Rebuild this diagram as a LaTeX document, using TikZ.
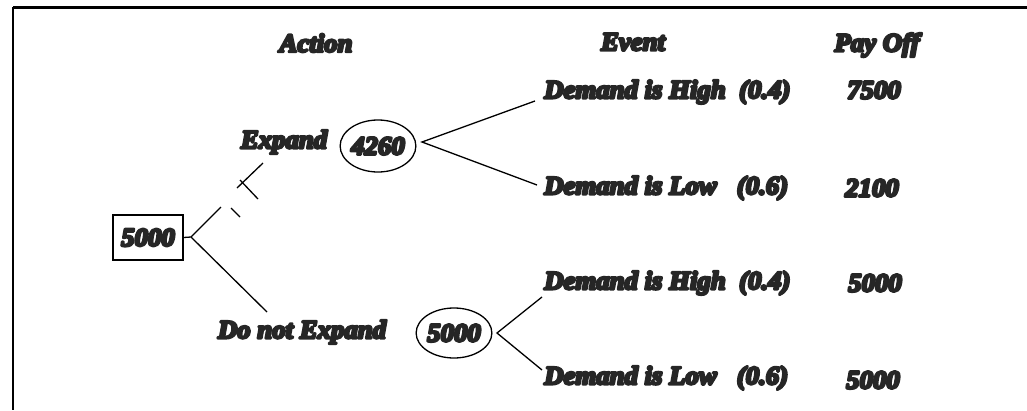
\documentclass[tikz,border=0pt]{standalone}
\usepackage{fontspec}
\newfontfamily\heavy{Liberation Serif}[UprightFont={* Bold Italic}, FakeStretch=1.03]
\usetikzlibrary{shapes.geometric}
\definecolor{ink}{HTML}{262626}
\newcommand\fattext[1]{\special{pdf:literal 2 Tr 2.6 w 1 j}#1\special{pdf:literal 0 Tr}}
\begin{document}
\begin{tikzpicture}[x=1pt,y=-1pt,
  lbl/.style={font=\heavy\fontsize{26}{28}\selectfont, text=ink, inner sep=0pt},
  conn/.style={line width=1.3pt, draw=black},
  chance/.style={ellipse, draw=black, line width=1.3pt, inner sep=0pt},
  decision/.style={rectangle, draw=black, line width=1.3pt, inner sep=0pt}]
\useasboundingbox (0,0) rectangle (1027,410);
% frame
\draw[line width=3pt] (13,7) -- (1027,7);
\draw[line width=2.5pt] (13,7) -- (13,410);
% headers
\node[lbl] (hAction) at (316,43) {\fattext{Action}};
\node[lbl] (hEvent) at (633,42) {\fattext{Event}};
\node[lbl] (hPay) at (877,45) {\fattext{Pay Off}};
% decision node
\node[decision, lbl, minimum width=70pt, minimum height=45pt, draw=black] (root) at (148,237.5) {\fattext{5000}};
% action labels
\node[lbl] (lExp) at (284,142) {\fattext{Expand}};
\node[lbl] (lNot) at (302,332) {\fattext{Do not Expand}};
% chance nodes
\node[chance, lbl, minimum width=67pt, minimum height=52pt, draw=black] (c1) at (378,146) {\fattext{4260}};
\node[chance, lbl, minimum width=68pt, minimum height=50pt, draw=black] (c2) at (454,333) {\fattext{5000}};
% events
\node[lbl, anchor=west] (e1) at (544,92) {\fattext{Demand is High\ \ (0.4)}};
\node[lbl, anchor=west] (e2) at (544,188) {\fattext{Demand is Low\ \ \ (0.6)}};
\node[lbl, anchor=west] (e3) at (544,283) {\fattext{Demand is High\ \ (0.4)}};
\node[lbl, anchor=west] (e4) at (544,378) {\fattext{Demand is Low\ \ \ (0.6)}};
% payoffs
\node[lbl] (p1) at (874,90) {\fattext{7500}};
\node[lbl] (p2) at (872,188) {\fattext{2100}};
\node[lbl] (p3) at (875,283) {\fattext{5000}};
\node[lbl] (p4) at (873,380) {\fattext{5000}};
% branch coordinates
\coordinate (rootApex) at (191,237);
\coordinate (expGapA) at (221,207);
\coordinate (expGapB) at (237,188);
\coordinate (expEnd) at (263,163);
\coordinate (notEnd) at (267,312);
\coordinate (c1o) at (422,142);
\coordinate (e1in) at (535,101);
\coordinate (e2in) at (537,185);
\coordinate (c2o) at (497,333);
\coordinate (e3in) at (542,297);
\coordinate (e4in) at (542,370);
\coordinate (tickBa) at (231,208);
\coordinate (tickBb) at (240,217);
\coordinate (tickDa) at (240,180);
\coordinate (tickDb) at (258,199);
% connectors
\draw[conn] (root.east) -- (rootApex) -- (expGapA);
\draw[conn] (expGapB) -- (expEnd);
\draw[conn] (tickBa) -- (tickBb);
\draw[conn] (tickDa) -- (tickDb);
\draw[conn] (rootApex) -- (notEnd);
\draw[conn] (e1in) -- (c1o) -- (e2in);
\draw[conn] (e3in) -- (c2o) -- (e4in);
\end{tikzpicture}
\end{document}
